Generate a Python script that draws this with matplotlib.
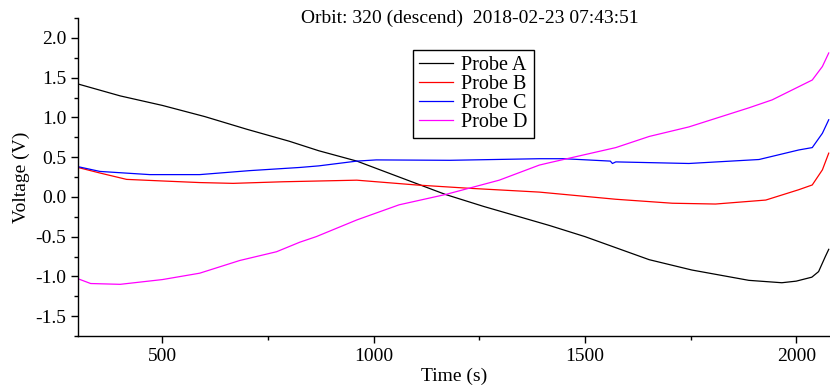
import numpy as np
import matplotlib
matplotlib.use("Agg")
import matplotlib.pyplot as plt

plt.rcParams['font.family'] = ['Liberation Serif', 'DejaVu Serif']
plt.rcParams['font.size'] = 14

title = "Orbit: 320 (descend)  2018-02-23 07:43:51"

# Probe A (black)
t_a = [300, 400, 500, 600, 700, 800, 870, 960, 1100, 1170, 1260, 1416, 1500,
       1652, 1753, 1888, 1966, 2000, 2037, 2053, 2069, 2077]
v_a = [1.42, 1.27, 1.15, 1.01, 0.85, 0.70, 0.58, 0.45, 0.17, 0.03, -0.12, -0.36, -0.50,
       -0.79, -0.92, -1.05, -1.08, -1.06, -1.01, -0.94, -0.75, -0.66]

# Probe B (red)
t_b = [300, 352, 415, 500, 588, 667, 785, 960, 1100, 1220, 1392, 1573, 1707,
       1809, 1928, 2006, 2038, 2062, 2077]
v_b = [0.37, 0.30, 0.22, 0.20, 0.18, 0.17, 0.19, 0.21, 0.15, 0.11, 0.06, -0.03, -0.08,
       -0.09, -0.04, 0.09, 0.15, 0.34, 0.55]

# Probe C (blue)
t_c = [300, 352, 470, 588, 706, 825, 870, 960, 1006, 1180, 1392, 1450, 1560,
       1565, 1573, 1746, 1912, 2006, 2038, 2062, 2077]
v_c = [0.38, 0.32, 0.28, 0.28, 0.33, 0.37, 0.39, 0.45, 0.465, 0.46, 0.48, 0.48, 0.45,
       0.42, 0.44, 0.42, 0.47, 0.59, 0.62, 0.80, 0.97]

# Probe D (magenta)
t_d = [300, 330, 400, 500, 588, 683, 770, 825, 864, 960, 1060, 1170, 1297, 1392,
       1416, 1573, 1652, 1746, 1888, 1943, 2000, 2038, 2062, 2077]
v_d = [-1.03, -1.09, -1.10, -1.04, -0.96, -0.80, -0.69, -0.57, -0.50, -0.29, -0.10, 0.03,
       0.21, 0.40, 0.43, 0.62, 0.76, 0.88, 1.12, 1.22, 1.37, 1.47, 1.64, 1.81]

fig = plt.figure(figsize=(8.3, 3.86), dpi=100)
ax = fig.add_axes([78 / 830, 1 - 336 / 386, 1 - 78 / 830, (336 - 18) / 386])

ax.plot(t_a, v_a, color='black', lw=0.9, label='Probe A')
ax.plot(t_b, v_b, color='red', lw=0.9, label='Probe B')
ax.plot(t_c, v_c, color='blue', lw=0.9, label='Probe C')
ax.plot(t_d, v_d, color='magenta', lw=0.9, label='Probe D')

ax.set_xlim(300, 2080)
ax.set_ylim(-1.75, 2.25)
ax.set_xticks([500, 1000, 1500, 2000])
ax.set_xticks([750, 1250, 1750], minor=True)
ax.set_yticks(np.arange(-1.5, 2.01, 0.5))
ax.set_yticks(np.arange(-1.75, 2.26, 0.5), minor=True)
ax.yaxis.set_major_formatter(plt.FuncFormatter(lambda v, p: f"{v:.1f}"))

ax.spines['top'].set_visible(False)
ax.spines['right'].set_visible(False)
ax.spines['left'].set_linewidth(1.0)
ax.spines['bottom'].set_linewidth(1.0)
ax.tick_params(which='major', direction='out', length=5, width=1, labelsize=14)
ax.tick_params(which='minor', direction='out', length=3, width=1)

ax.set_xlabel("Time (s)", fontsize=14, labelpad=2)
ax.set_ylabel("Voltage (V)", fontsize=14, labelpad=4)

fig.text(470 / 830, 1 - 18 / 386, title, ha='center', va='center', fontsize=14)

leg = ax.legend(loc='upper left', bbox_to_anchor=(413 / 830, 1 - 50 / 386),
                bbox_transform=fig.transFigure, borderaxespad=0, fancybox=False,
                frameon=True, edgecolor='black', framealpha=1, fontsize=14.5,
                labelspacing=0.0, handlelength=1.7, handletextpad=0.4, borderpad=0.3)
leg.get_frame().set_linewidth(1.0)

fig.savefig("out.png", dpi=100)
